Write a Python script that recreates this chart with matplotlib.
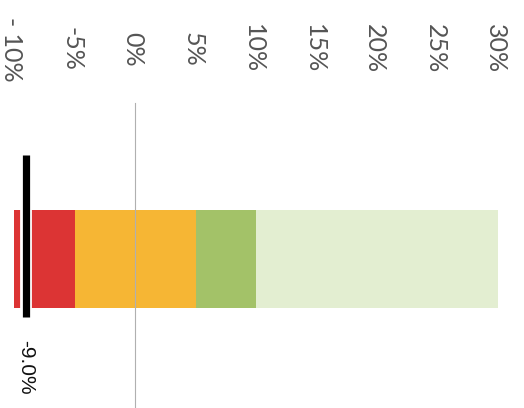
import matplotlib.pyplot as plt
import matplotlib.patheffects as pe

# Datos del gráfico de bala (rangos en %)
rangos_inicio = [-10, -5, 5, 10]
rangos_fin = [-5, 5, 10, 30]
colores = ['#dc3434', '#f6b634', '#a3c268', '#e3eed1']
ticks = [-10, -5, 0, 5, 10, 15, 20, 25, 30]
etiquetas = ['- 10%', '-5%', '0%', '5%', '10%', '15%', '20%', '25%', '30%']
valor = -9.0
etiqueta_valor = '-9.0%'

escala = 12.1  # pixeles por punto porcentual
fig = plt.figure(figsize=(5.24, 4.08), dpi=100)
ax = fig.add_axes([0, 0, 1, 1])
ax.set_xlim(-135 / escala, (524 - 135) / escala)
ax.set_ylim(408, 0)
ax.axis('off')

# Bandas de color
anchos = [f - i for i, f in zip(rangos_inicio, rangos_fin)]
ax.barh(259, anchos, left=rangos_inicio, height=98, color=colores, zorder=2)

# Linea de referencia en 0%
ax.plot([0, 0], [103, 408], color='#b0b0b0', lw=0.8, zorder=3)

# Marcador del valor con borde blanco
ax.plot([valor, valor], [155, 317], color='black', lw=5.2, solid_capstyle='butt', zorder=5,
        path_effects=[pe.Stroke(linewidth=8.5, foreground='white'), pe.Normal()])
ax.text(valor, 367, etiqueta_valor, rotation=270, ha='center', va='center',
        fontsize=15, color='#111111', family=['Liberation Sans', 'DejaVu Sans'])

# Etiquetas del eje
for t, lab in zip(ticks, etiquetas):
    ax.text(t - 0.2, 49, lab, rotation=270, ha='center', va='center',
            fontsize=18, color='#555555', family=['Lato', 'DejaVu Sans'])

plt.savefig('out.png', dpi=100)
